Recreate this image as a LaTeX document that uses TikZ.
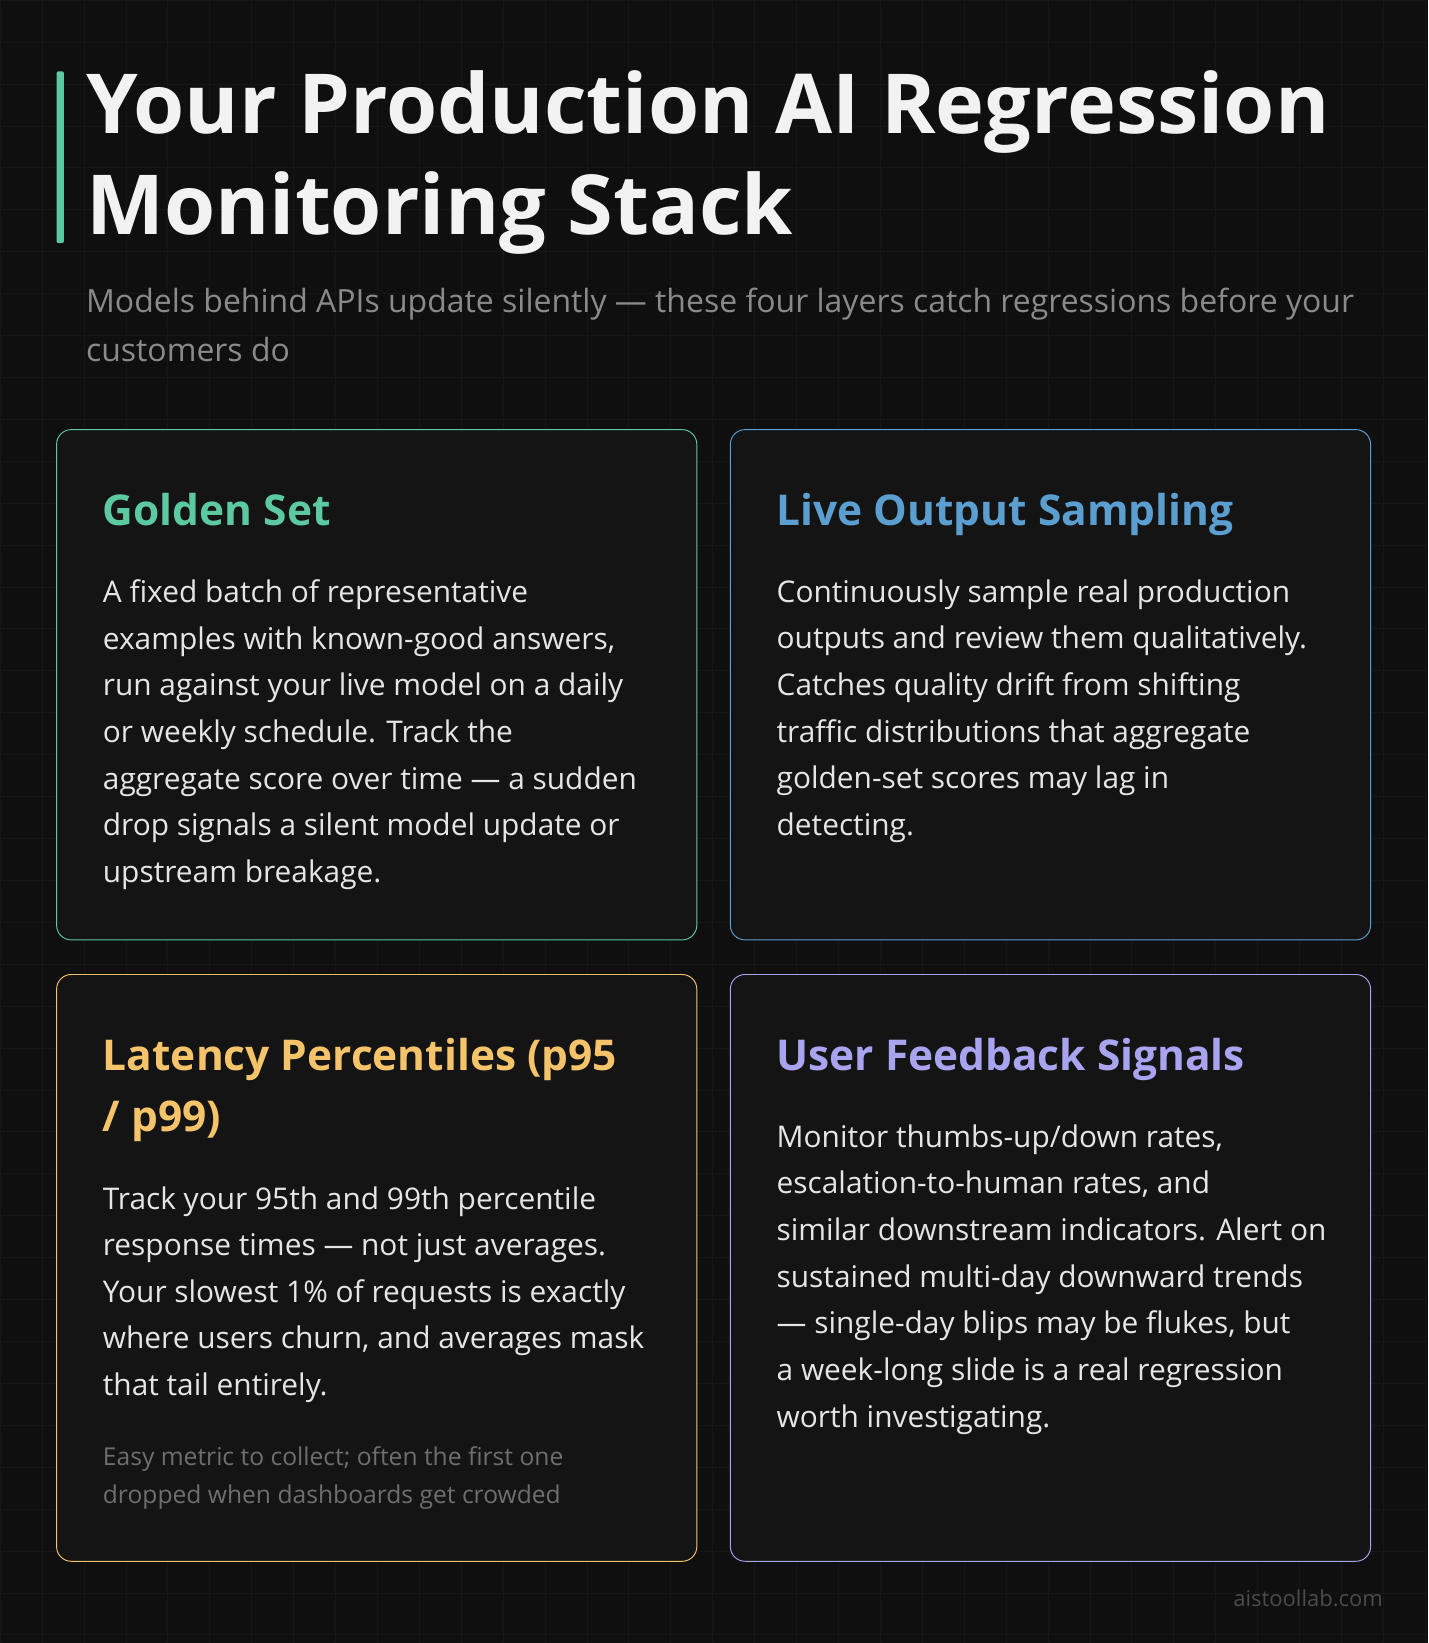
\documentclass[tikz,border=0pt]{standalone}
\usepackage{fontspec}
\setmainfont{Open Sans}
\usetikzlibrary{positioning}
\definecolor{bgc}{HTML}{0F0F0F}
\definecolor{cardc}{HTML}{141414}
\definecolor{greenc}{HTML}{5CC9A0}
\definecolor{bluec}{HTML}{5B9FD0}
\definecolor{yellowc}{HTML}{F5C46A}
\definecolor{purplec}{HTML}{A9A4EF}
\definecolor{subc}{HTML}{8A8A8A}
\tikzset{
  card/.style={draw=#1, line width=0.9pt, fill=cardc, rounded corners=14pt},
  heading/.style={anchor=north west, inner sep=0pt, text=#1,
    font=\fontsize{40.5}{58}\selectfont\bfseries, align=left},
  body/.style={anchor=north west, inner sep=0pt, text=white!90!black,
    font=\fontsize{28.5}{44.5}\selectfont, align=left},
  note/.style={anchor=north west, inner sep=0pt, text=subc!80!black,
    font=\fontsize{23.5}{37}\selectfont, align=left}
}
\begin{document}
\begin{tikzpicture}[x=1pt,y=-1pt]
  \fill[bgc] (0,0) rectangle (1363,1568);
  \useasboundingbox (0,0) rectangle (1363,1568);
  \draw[white!3!bgc, step=40pt] (0,0) grid (1363,1568);
  % title
  \fill[greenc, rounded corners=2pt] (54,68) rectangle (61,232);
  \node (title) [anchor=north west, inner sep=0pt, text=white!95!black,
    font=\fontsize{79}{97}\selectfont\bfseries, align=left] at (82,67)
    {Your Production AI Regression\\Monitoring Stack};
  \node (sub) [anchor=north west, inner sep=0pt, text=subc,
    font=\fontsize{30.5}{46}\selectfont, align=left] at (82,275)
    {Models behind APIs update silently --- these four layers catch regressions before your\\customers do};
  % cards
  \draw[card=greenc] (54,410) rectangle (665,897);
  \draw[card=bluec] (697,410) rectangle (1308,897);
  \draw[card=yellowc] (54,930) rectangle (665,1490);
  \draw[card=purplec] (697,930) rectangle (1308,1490);
  \node (gs) [heading=greenc] at (98,471) {Golden Set};
  \node (gsb) [body] at (98,553) {A fixed batch of representative\\examples with known-good answers,\\run against your live model on a daily\\or weekly schedule. Track the\\aggregate score over time --- a sudden\\drop signals a silent model update or\\upstream breakage.};
  \node (lo) [heading=bluec] at (741,471) {Live Output Sampling};
  \node (lob) [body] at (741,553) {Continuously sample real production\\outputs and review them qualitatively.\\Catches quality drift from shifting\\traffic distributions that aggregate\\golden-set scores may lag in\\detecting.};
  \node (lp) [heading=yellowc] at (98,991) {Latency Percentiles (p95\\/ p99)};
  \node (lpb) [body] at (98,1132) {Track your 95th and 99th percentile\\response times --- not just averages.\\Your slowest 1\% of requests is exactly\\where users churn, and averages mask\\that tail entirely.};
  \node (lpn) [note] at (98,1380) {Easy metric to collect; often the first one\\dropped when dashboards get crowded};
  \node (uf) [heading=purplec] at (741,991) {User Feedback Signals};
  \node (ufb) [body] at (741,1073) {Monitor thumbs-up/down rates,\\escalation-to-human rates, and\\similar downstream indicators. Alert on\\sustained multi-day downward trends\\--- single-day blips may be flukes, but\\a week-long slide is a real regression\\worth investigating.};
  \node (foot) [anchor=east, inner sep=0pt, text=white!25!bgc, font=\fontsize{21}{25}\selectfont] at (1320,1525) {aistoollab.com};
\end{tikzpicture}
\end{document}
